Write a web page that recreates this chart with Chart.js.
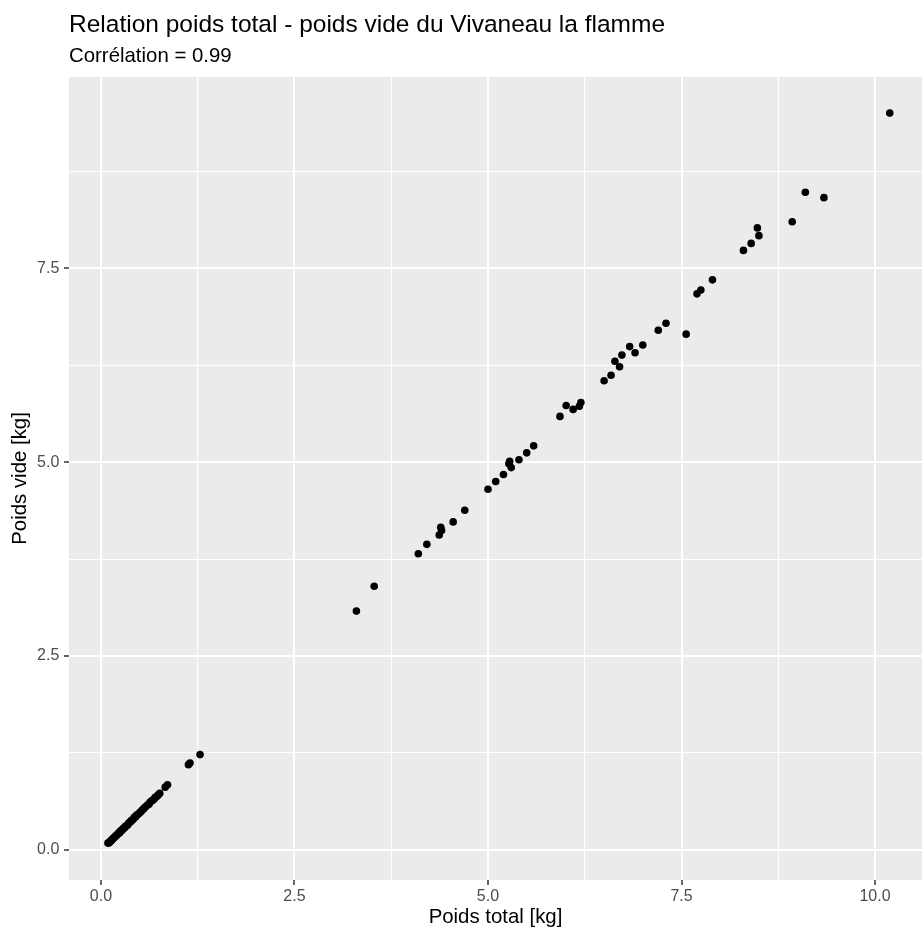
<!DOCTYPE html>
<html>
<head>
<meta charset="utf-8">
<script src="https://cdn.jsdelivr.net/npm/chart.js@4"></script>
<style>
  body { margin: 0; background: #ffffff; }
  canvas { display: block; }
</style>
</head>
<body>
<canvas id="nuage" width="922" height="929"></canvas>
<script>
// valeurs (kg)
var poidsTotal = [
  0.09, 0.10, 0.11, 0.12, 0.13, 0.14, 0.15, 0.16, 0.17, 0.18,
  0.19, 0.20, 0.21, 0.22, 0.23, 0.24, 0.25, 0.26, 0.27, 0.28,
  0.29, 0.30, 0.31, 0.32, 0.33, 0.35, 0.36, 0.38, 0.39, 0.40,
  0.42, 0.43, 0.45, 0.46, 0.48, 0.50, 0.51, 0.53, 0.55, 0.56,
  0.58, 0.60, 0.62, 0.63, 0.65, 0.67, 0.69, 0.70, 0.72, 0.74,
  0.76, 0.83, 0.86, 1.13, 1.15, 1.28,
  3.30, 3.53, 4.10, 4.21, 4.37, 4.40, 4.39, 4.55, 4.70, 5.00,
  5.10, 5.20, 5.28, 5.27, 5.30, 5.40, 5.50, 5.59, 5.93, 6.01,
  6.10, 6.18, 6.20, 6.50, 6.59, 6.64, 6.70, 6.73, 6.83, 6.90,
  7.00, 7.20, 7.30, 7.56, 7.70, 7.75, 7.90, 8.30, 8.40, 8.50,
  8.48, 8.93, 9.34, 9.10, 10.19
]
var poidsVide = [
  0.09, 0.09, 0.10, 0.11, 0.12, 0.13, 0.14, 0.15, 0.16, 0.17,
  0.18, 0.19, 0.20, 0.21, 0.22, 0.22, 0.24, 0.25, 0.25, 0.27,
  0.28, 0.28, 0.30, 0.31, 0.31, 0.33, 0.35, 0.36, 0.38, 0.38,
  0.40, 0.42, 0.43, 0.45, 0.46, 0.48, 0.49, 0.51, 0.53, 0.54,
  0.56, 0.58, 0.59, 0.61, 0.63, 0.64, 0.66, 0.68, 0.69, 0.71,
  0.73, 0.81, 0.84, 1.10, 1.12, 1.23,
  3.08, 3.40, 3.82, 3.94, 4.06, 4.12, 4.16, 4.23, 4.38, 4.65,
  4.75, 4.84, 5.01, 4.98, 4.93, 5.03, 5.12, 5.21, 5.59, 5.73,
  5.68, 5.72, 5.77, 6.05, 6.12, 6.30, 6.23, 6.38, 6.49, 6.41,
  6.51, 6.70, 6.79, 6.65, 7.17, 7.22, 7.35, 7.73, 7.82, 7.92,
  8.02, 8.10, 8.41, 8.48, 9.50
]
var pas = 1.25
var pasMajeur = 2.5

var points = []
for (var i = 0; i < poidsTotal.length; i++) {
  points.push({ x: poidsTotal[i], y: poidsVide[i] })
}

function estMajeur(v) {
  return Math.abs(v / pasMajeur - Math.round(v / pasMajeur)) < 1e-6
}

var police = "'Liberation Sans', Arial, sans-serif"

function axe(titre, min, max, largeur, hauteur, pad) {
  return {
    type: 'linear',
    min: min,
    max: max,
    border: { display: false },
    afterFit: function (scale) {
      if (largeur) scale.width = largeur
      if (hauteur) scale.height = hauteur
    },
    ticks: {
      stepSize: pas,
      includeBounds: false,
      autoSkip: false,
      maxRotation: 0,
      padding: pad,
      color: '#4D4D4D',
      font: { family: police, size: 16 },
      callback: function (v) { return estMajeur(v) ? v.toFixed(1) : '' }
    },
    grid: {
      color: '#FFFFFF',
      lineWidth: function (ctx) { return ctx.tick && estMajeur(ctx.tick.value) ? 2 : 1.1 },
      tickColor: function (ctx) { return ctx.tick && estMajeur(ctx.tick.value) ? '#333333' : 'rgba(0,0,0,0)' },
      tickLength: 5,
      tickWidth: 1.5
    },
    title: {
      display: true,
      text: titre,
      color: '#000000',
      font: { family: police, size: 20.4 },
      padding: largeur ? { top: 8.5, bottom: 0 } : { top: 0, bottom: -1 }
    }
  }
}

var fondPanneau = {
  id: 'fondPanneau',
  beforeDraw: function (chart) {
    var c = chart.ctx, a = chart.chartArea
    c.save()
    c.fillStyle = '#FFFFFF'
    c.fillRect(0, 0, chart.width, chart.height)
    c.fillStyle = '#EBEBEB'
    c.fillRect(a.left, a.top, a.right - a.left, a.bottom - a.top)
    c.restore()
  }
}

new Chart(document.getElementById('nuage'), {
  type: 'scatter',
  data: {
    datasets: [{
      data: points,
      backgroundColor: '#000000',
      borderWidth: 0,
      pointRadius: 3.8,
      pointHoverRadius: 3.8
    }]
  },
  options: {
    responsive: false,
    animation: false,
    layout: { padding: 0, autoPadding: false },
    plugins: {
      legend: { display: false },
      tooltip: { enabled: false },
      title: {
        display: true,
        text: 'Relation poids total - poids vide du Vivaneau la flamme',
        align: 'start',
        fullSize: false,
        color: '#000000',
        font: { family: police, size: 24.5, weight: 'normal' },
        padding: { top: 10.2, bottom: 2 }
      },
      subtitle: {
        display: true,
        text: 'Corrélation = 0.99',
        align: 'start',
        fullSize: false,
        color: '#000000',
        font: { family: police, size: 20.4, weight: 'normal' },
        padding: { top: 2.3, bottom: 8.5 }
      }
    },
    scales: {
      x: axe('Poids total [kg]', -0.413, 10.607, 0, 49, 2),
      y: axe('Poids vide [kg]', -0.387, 9.967, 69, 0, 4.7)
    }
  },
  plugins: [fondPanneau]
})
</script>
</body>
</html>
